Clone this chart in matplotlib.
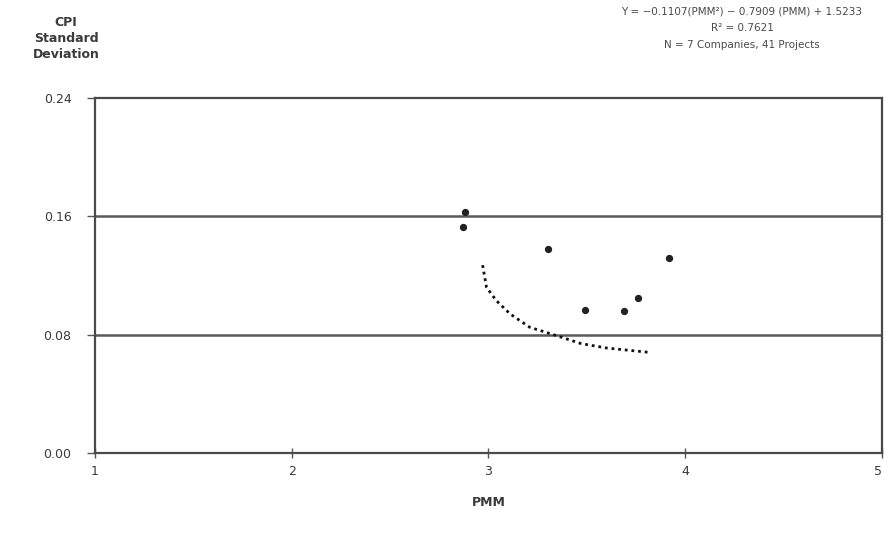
import numpy as np
import matplotlib
matplotlib.use('Agg')
import matplotlib.pyplot as plt

# data
pmm = [2.88, 2.87, 3.30, 3.49, 3.69, 3.76, 3.92]
cpi_sd = [0.163, 0.153, 0.138, 0.097, 0.096, 0.105, 0.132]

# dotted trend line
trend_x = [2.97, 2.99, 3.04, 3.11, 3.21, 3.33, 3.47, 3.60, 3.82]
trend_y = [0.127, 0.112, 0.103, 0.094, 0.085, 0.080, 0.074, 0.071, 0.068]

xticks = [1, 2, 3, 4, 5]
yticks = [0.00, 0.08, 0.16, 0.24]

eq_lines = ['Y = \u22120.1107(PMM\u00b2) \u2212 0.7909 (PMM) + 1.5233',
            'R\u00b2 = 0.7621',
            'N = 7 Companies, 41 Projects']

txt = '#3a3a3a'
plt.rcParams['font.family'] = ['DejaVu Sans']

fig = plt.figure(figsize=(8.84, 5.37), dpi=100)
ax = fig.add_axes([0.1075, 0.1564, 0.8902, 0.6611])

for yv in yticks[1:3]:
    ax.axhline(yv, color='#5a5a5a', lw=1.8, zorder=1)

ax.scatter(pmm, cpi_sd, s=18, color='#222222', zorder=3)
ax.plot(trend_x, trend_y, linestyle=(0, (1, 1.4)), color='#111111', lw=2.0, zorder=2)

ax.set_xlim(1, 5)
ax.set_ylim(0, 0.24)
ax.set_xticks(xticks)
ax.set_yticks(yticks)
ax.set_xticklabels([str(v) for v in xticks], fontsize=9, color=txt)
ax.set_yticklabels(['%.2f' % v for v in yticks], fontsize=9, color=txt)
# last x label sits at the figure edge, push it inside
ax.get_xticklabels()[-1].set_horizontalalignment('right')
ax.tick_params(axis='x', direction='inout', length=7, width=1, color='#555555', pad=5)
ax.tick_params(axis='y', direction='out', length=6, width=1, color='#555555', pad=11)

for sp in ax.spines.values():
    sp.set_color('#4a4a4a')
    sp.set_linewidth(1.6)

fig.text(66 / 884, 1 - 38 / 537, 'CPI\nStandard\nDeviation', ha='center', va='center',
         fontsize=9, fontweight='bold', color=txt, linespacing=1.3)
fig.text(489 / 884, 1 - 502 / 537, 'PMM', ha='center', va='center',
         fontsize=9, fontweight='bold', color=txt)

for i, line in enumerate(eq_lines):
    fig.text(742 / 884, 1 - (11 + 17 * i) / 537, line, ha='center', va='center',
             fontsize=7.5, color='#4a4a4a')

fig.savefig('out.png', dpi=100, facecolor='white')
